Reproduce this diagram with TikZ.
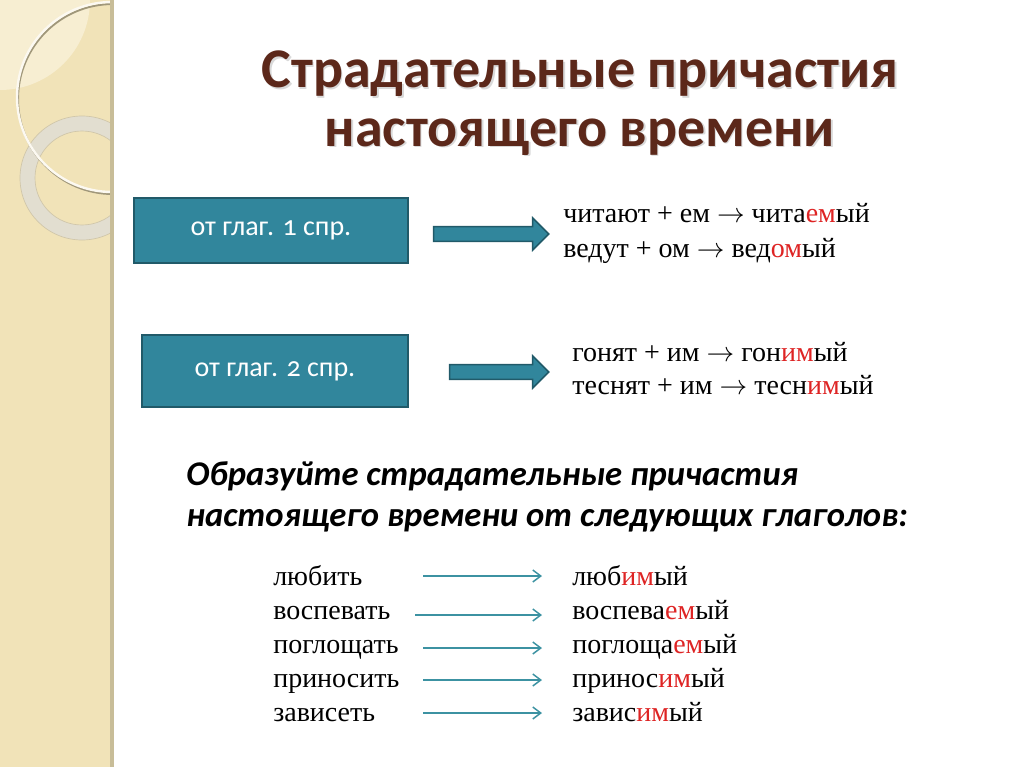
\documentclass[tikz,border=0pt]{standalone}
\usepackage{fontspec}
\setmainfont{Liberation Serif}
\newfontfamily\calibri{Carlito}
\usetikzlibrary{arrows.meta,shapes.arrows}

\definecolor{sidebar}{RGB}{241,227,184}
\definecolor{sidelight}{RGB}{247,238,210}
\definecolor{sideedge}{RGB}{200,189,152}
\definecolor{ringgray}{RGB}{226,222,208}
\definecolor{titlebrown}{RGB}{92,40,26}
\definecolor{boxteal}{RGB}{49,134,156}
\definecolor{boxedge}{RGB}{33,90,105}
\definecolor{thinteal}{RGB}{60,146,162}
\definecolor{sufred}{RGB}{222,36,36}

\newcommand{\redpart}[1]{\textcolor{sufred}{#1}}
\newcommand{\ruleto}{$\rightarrow$}

\tikzset{
  titletext/.style={text=titlebrown, font=\calibri\bfseries\fontsize{42}{50}\selectfont, inner sep=0},
  sprbox/.style={draw=boxedge, fill=boxteal, line width=1.5, text=white, font=\calibri\fontsize{21}{25}\selectfont\addfontfeatures{Numbers=OldStyle}},
  blockarrow/.style={single arrow, draw=boxedge, fill=boxteal, line width=1.2, inner sep=4.9pt, single arrow head extend=6.5pt, single arrow tip angle=90},
  ruletext/.style={font=\fontsize{21}{25}\selectfont, inner sep=0, anchor=base west},
  taskhead/.style={font=\calibri\bfseries\itshape\fontsize{26}{31}\selectfont, inner sep=0, anchor=base west},
  thinarrow/.style={draw=thinteal, line width=1.1, -{Straight Barb[length=6pt,width=9pt]}}
}

\begin{document}
\begin{tikzpicture}[x=0.75pt,y=0.75pt,yscale=-1,xscale=1]
\useasboundingbox (0,0) rectangle (1024,767);
\fill[white] (0,0) rectangle (1024,767);

%Shape: Sidebar
\fill[sidebar] (0,0) rectangle (110,767);
\begin{scope}
\clip (0,0) rectangle (110,767);
%Shape: light corner
\fill[sidelight] (0,0) circle (90);
%Shape: ring
\draw[ringgray, line width=11.25] (82,178) circle (54.5);
\draw[ringgray!70!black!40!sidebar, line width=0.5] (82,178) circle (62);
\draw[ringgray!70!black!40!sidebar, line width=0.5] (82,178) circle (47);
%Shape: big circle
\draw[sideedge!80!black, line width=1.5] (113,99) circle (95);
\draw[white!80!sidebar, line width=1.8] (112,97) circle (95);
\end{scope}
\fill[sideedge] (110,0) rectangle (114,767);

%Text: title
\node[titletext, text=black!15, anchor=base] (title1s) at (581.5,89.5) {Страдательные причастия};
\node[titletext, anchor=base] (title1) at (580,88) {Страдательные причастия};
\node[titletext, text=black!15, anchor=base] (title2s) at (581.5,147.5) {настоящего времени};
\node[titletext, anchor=base] (title2) at (580,146) {настоящего времени};

%Shape: Rectangle 1
\node[sprbox, minimum width=205.5pt, minimum height=48.75pt] (box1) at (271,230.5) {от глаг. 1 спр.};
%Shape: Rectangle 2
\node[sprbox, minimum width=199.5pt, minimum height=54pt] (box2) at (275,371) {от глаг. 2 спр.};

%Shape: Right Arrow 1
\node[blockarrow, minimum height=86.25pt] (arr1) at (487.5,234) {};
%Shape: Right Arrow 2
\node[blockarrow, minimum height=74.25pt] (arr2) at (495.5,372) {};

%Text: rules of the 1st conjugation
\node[ruletext] (rule1) at (563,222) {читают + ем \ruleto{} чита\redpart{ем}ый};
\node[ruletext] (rule2) at (563,257) {ведут + ом \ruleto{} вед\redpart{ом}ый};
%Text: rules of the 2nd conjugation
\node[ruletext] (rule3) at (572,361) {гонят + им \ruleto{} гон\redpart{им}ый};
\node[ruletext] (rule4) at (572,394) {теснят + им \ruleto{} тесн\redpart{им}ый};

%Text: task
\node[taskhead] (task1) at (186,485) {Образуйте страдательные причастия};
\node[taskhead] (task2) at (186,526) {настоящего времени от следующих глаголов:};

%Text: verbs
\node[ruletext] (verb1) at (273,585) {любить};
\node[ruletext] (verb2) at (273,619) {воспевать};
\node[ruletext] (verb3) at (273,653) {поглощать};
\node[ruletext] (verb4) at (273,687) {приносить};
\node[ruletext] (verb5) at (273,721) {зависеть};
%Text: participles
\node[ruletext] (part1) at (572,585) {люб\redpart{им}ый};
\node[ruletext] (part2) at (572,619) {воспева\redpart{ем}ый};
\node[ruletext] (part3) at (572,653) {поглоща\redpart{ем}ый};
\node[ruletext] (part4) at (572,687) {принос\redpart{им}ый};
\node[ruletext] (part5) at (572,721) {завис\redpart{им}ый};

%Straight Lines: arrow ends
\coordinate (from1) at (423,576);
\coordinate (to1) at (542,576);
\coordinate (from2) at (415,615);
\coordinate (to2) at (542,615);
\coordinate (from3) at (423,648);
\coordinate (to3) at (542,648);
\coordinate (from4) at (423,680);
\coordinate (to4) at (542,680);
\coordinate (from5) at (423,713);
\coordinate (to5) at (542,713);
\draw[thinarrow] (from1) -- (to1);
\draw[thinarrow] (from2) -- (to2);
\draw[thinarrow] (from3) -- (to3);
\draw[thinarrow] (from4) -- (to4);
\draw[thinarrow] (from5) -- (to5);

\end{tikzpicture}
\end{document}
